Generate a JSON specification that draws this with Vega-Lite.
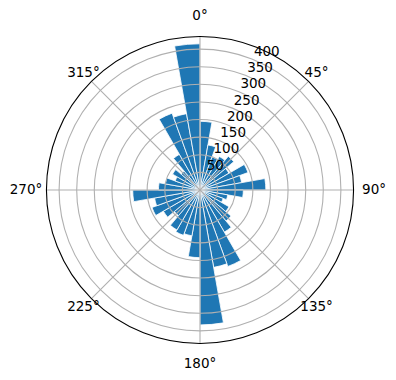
{
  "$schema": "https://vega.github.io/schema/vega-lite/v6.json",
  "width": 392,
  "height": 380,
  "autosize": "none",
  "padding": {"left": 4, "top": 0, "right": 0, "bottom": 0},
  "background": "white",
  "config": {"view": {"stroke": null}, "text": {"font": "DejaVu Sans"}},
  "resolve": {"scale": {"theta": "shared", "radius": "shared"}},
  "datasets": {
    "bars": [
      {"start": 0, "end": 10, "count": 195},
      {"start": 10, "end": 20, "count": 130},
      {"start": 20, "end": 30, "count": 100},
      {"start": 30, "end": 40, "count": 110},
      {"start": 40, "end": 50, "count": 125},
      {"start": 50, "end": 60, "count": 95},
      {"start": 60, "end": 70, "count": 145},
      {"start": 70, "end": 80, "count": 120},
      {"start": 80, "end": 90, "count": 187},
      {"start": 90, "end": 100, "count": 123},
      {"start": 100, "end": 110, "count": 80},
      {"start": 110, "end": 120, "count": 70},
      {"start": 120, "end": 130, "count": 95},
      {"start": 130, "end": 140, "count": 115},
      {"start": 140, "end": 150, "count": 138},
      {"start": 150, "end": 160, "count": 231},
      {"start": 160, "end": 170, "count": 223},
      {"start": 170, "end": 180, "count": 383},
      {"start": 180, "end": 190, "count": 192},
      {"start": 190, "end": 200, "count": 132},
      {"start": 200, "end": 210, "count": 137},
      {"start": 210, "end": 220, "count": 131},
      {"start": 220, "end": 230, "count": 95},
      {"start": 230, "end": 240, "count": 120},
      {"start": 240, "end": 250, "count": 145},
      {"start": 250, "end": 260, "count": 131},
      {"start": 260, "end": 270, "count": 191},
      {"start": 270, "end": 280, "count": 118},
      {"start": 280, "end": 290, "count": 100},
      {"start": 290, "end": 300, "count": 75},
      {"start": 300, "end": 310, "count": 90},
      {"start": 310, "end": 320, "count": 70},
      {"start": 320, "end": 330, "count": 117},
      {"start": 330, "end": 340, "count": 232},
      {"start": 340, "end": 350, "count": 220},
      {"start": 350, "end": 360, "count": 415}
    ],
    "rings": [
      {"r": 50, "label": "50"}, {"r": 100, "label": "100"}, {"r": 150, "label": "150"},
      {"r": 200, "label": "200"}, {"r": 250, "label": "250"}, {"r": 300, "label": "300"},
      {"r": 350, "label": "350"}, {"r": 400, "label": "400"}
    ],
    "spokes": [
      {"a": 0, "label": "0°"}, {"a": 45, "label": "45°"}, {"a": 90, "label": "90°"},
      {"a": 135, "label": "135°"}, {"a": 180, "label": "180°"}, {"a": 225, "label": "225°"},
      {"a": 270, "label": "270°"}, {"a": 315, "label": "315°"}
    ],
    "outer": [{"rmax": 435.75}]
  },
  "layer": [
    {
      "data": {"name": "bars"},
      "mark": {"type": "arc", "fill": "#1f77b4", "stroke": "white", "strokeWidth": 0.8},
      "encoding": {
        "theta": {"field": "start", "type": "quantitative", "stack": null,
                  "scale": {"type": "linear", "domain": [0, 360], "range": [0, 6.283185307179586], "zero": false, "nice": false}},
        "theta2": {"field": "end"},
        "radius": {"field": "count", "type": "quantitative", "stack": null,
                   "scale": {"type": "linear", "domain": [0, 435.75], "range": [0, 153.5], "zero": true, "nice": false}}
      }
    },
    {
      "data": {"name": "rings"},
      "mark": {"type": "arc", "fill": null, "filled": false, "stroke": "#b0b0b0", "strokeWidth": 1.1},
      "encoding": {
        "theta": {"datum": 0, "type": "quantitative", "stack": null,
                  "scale": {"type": "linear", "domain": [0, 360], "range": [0, 6.283185307179586], "zero": false, "nice": false}},
        "theta2": {"datum": 360},
        "radius": {"field": "r", "type": "quantitative", "stack": null,
                   "scale": {"type": "linear", "domain": [0, 435.75], "range": [0, 153.5], "zero": true, "nice": false}}
      }
    },
    {
      "data": {"name": "spokes"},
      "mark": {"type": "arc", "fill": null, "filled": false, "stroke": "#b0b0b0", "strokeWidth": 1.1},
      "encoding": {
        "theta": {"field": "a", "type": "quantitative", "stack": null,
                  "scale": {"type": "linear", "domain": [0, 360], "range": [0, 6.283185307179586], "zero": false, "nice": false}},
        "theta2": {"field": "a"},
        "radius": {"datum": 435.75, "type": "quantitative", "stack": null,
                   "scale": {"type": "linear", "domain": [0, 435.75], "range": [0, 153.5], "zero": true, "nice": false}}
      }
    },
    {
      "data": {"name": "outer"},
      "mark": {"type": "arc", "fill": null, "filled": false, "stroke": "black", "strokeWidth": 1.1},
      "encoding": {
        "theta": {"datum": 0, "type": "quantitative", "stack": null,
                  "scale": {"type": "linear", "domain": [0, 360], "range": [0, 6.283185307179586], "zero": false, "nice": false}},
        "theta2": {"datum": 360},
        "radius": {"field": "rmax", "type": "quantitative", "stack": null,
                   "scale": {"type": "linear", "domain": [0, 435.75], "range": [0, 153.5], "zero": true, "nice": false}}
      }
    },
    {
      "data": {"name": "spokes"},
      "transform": [{"filter": "datum.a % 90 == 0"}],
      "mark": {"type": "text", "fontSize": 13.5, "align": "center", "baseline": "middle", "color": "black"},
      "encoding": {
        "theta": {"field": "a", "type": "quantitative", "stack": null,
                  "scale": {"type": "linear", "domain": [0, 360], "range": [0, 6.283185307179586], "zero": false, "nice": false}},
        "radius": {"datum": 494, "type": "quantitative", "stack": null,
                   "scale": {"type": "linear", "domain": [0, 435.75], "range": [0, 153.5], "zero": true, "nice": false}},
        "text": {"field": "label"}
      }
    },
    {
      "data": {"name": "spokes"},
      "transform": [{"filter": "datum.a % 90 != 0"}],
      "mark": {"type": "text", "fontSize": 13.5, "align": "center", "baseline": "middle", "color": "black"},
      "encoding": {
        "theta": {"field": "a", "type": "quantitative", "stack": null,
                  "scale": {"type": "linear", "domain": [0, 360], "range": [0, 6.283185307179586], "zero": false, "nice": false}},
        "radius": {"datum": 468, "type": "quantitative", "stack": null,
                   "scale": {"type": "linear", "domain": [0, 435.75], "range": [0, 153.5], "zero": true, "nice": false}},
        "text": {"field": "label"}
      }
    },
    {
      "data": {"name": "rings"},
      "mark": {"type": "text", "fontSize": 13.5, "align": "left", "baseline": "bottom", "dy": -1, "color": "black"},
      "encoding": {
        "theta": {"datum": 22.5, "type": "quantitative", "stack": null,
                  "scale": {"type": "linear", "domain": [0, 360], "range": [0, 6.283185307179586], "zero": false, "nice": false}},
        "radius": {"field": "r", "type": "quantitative", "stack": null,
                   "scale": {"type": "linear", "domain": [0, 435.75], "range": [0, 153.5], "zero": true, "nice": false}},
        "text": {"field": "label"}
      }
    }
  ]
}
